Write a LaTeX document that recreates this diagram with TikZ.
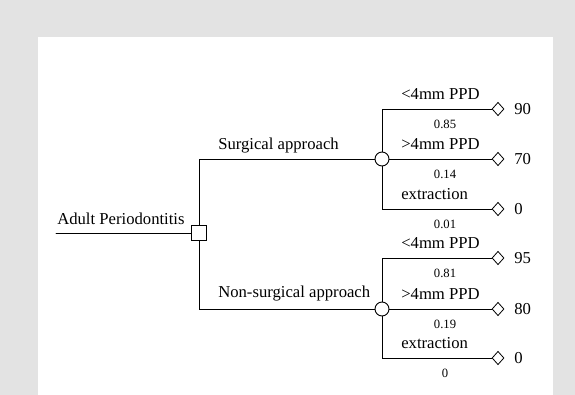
\documentclass[tikz,border=0pt]{standalone}
\usepackage{fontspec}
\setmainfont{Liberation Serif}
\usetikzlibrary{shapes.geometric}

\begin{document}
\begin{tikzpicture}[x=0.75pt,y=-0.75pt,cap=round,
	edge/.style={line width=0.7pt},
	decision/.style={draw,line width=0.7pt,fill=white,minimum size=11pt,inner sep=0pt},
	chance/.style={draw,circle,line width=0.7pt,fill=white,minimum size=10.5pt,inner sep=0pt},
	leaf/.style={draw,diamond,line width=0.6pt,fill=white,minimum width=9pt,minimum height=10pt,inner sep=0pt},
	lbl/.style={inner sep=0pt,font=\fontsize{12.5}{14}\selectfont},
	prob/.style={inner sep=0pt,font=\fontsize{9.5}{11}\selectfont},
	payoff/.style={inner sep=0pt,anchor=west,font=\fontsize{12.5}{14}\selectfont}]
% draw the grey frame
\fill[gray!22] (0,0) rectangle (575,37);
\fill[gray!22] (0,37) rectangle (38,395);
\fill[gray!22] (553,37) rectangle (575,395);
\useasboundingbox (0,0) rectangle (575,395);

% draw the decision and chance nodes
\coordinate (root) at (56,233);
\node[decision] (dec) at (199,233) {};
\node[chance] (cs) at (382,159) {};
\node[chance] (cn) at (382,309) {};

% end points of the branches
\foreach \n/\y in {s1/109,s2/159,s3/209,n1/258,n2/309,n3/358}
	\node[leaf] (\n) at (498,\y) {};

% the connectors
\draw[edge] (root) -- (dec.west);
\draw[edge] (dec.north) |- (cs.west);
\draw[edge] (dec.south) |- (cn.west);
\foreach \c in {s,n} {
	\draw[edge] (c\c.north) |- (\c1.west);
	\draw[edge] (c\c.east) -- (\c2.west);
	\draw[edge] (c\c.south) |- (\c3.west);
}

% the labels of the first branches
\node[lbl,anchor=base west] (lroot) at (57,225) {Adult Periodontitis};
\node[lbl,anchor=base west] (lsurg) at (218,150) {Surgical approach};
\node[lbl,anchor=base west] (lnon) at (218,298) {Non-surgical approach};

% outcome, probability and value of each branch
\foreach \n/\y/\txt/\p/\v in {
	s1/109/{<4mm PPD}/0.85/90,
	s2/159/{>4mm PPD}/0.14/70,
	s3/209/extraction/0.01/0,
	n1/258/{<4mm PPD}/0.81/95,
	n2/309/{>4mm PPD}/0.19/80,
	n3/358/extraction/0/0}
{
	\node[lbl,anchor=base west] (b\n) at (401,\y-9) {\txt};
	\node[prob] (p\n) at (445,\y+15) {\p};
	\node[payoff] (v\n) at (514,\y) {\v};
}
\end{tikzpicture}
\end{document}
